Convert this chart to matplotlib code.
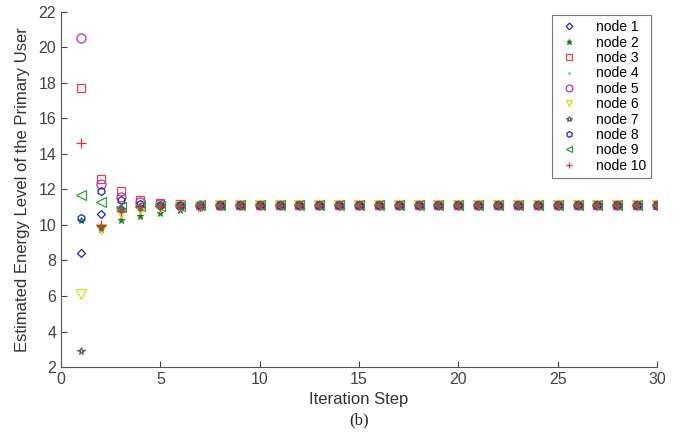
import matplotlib.pyplot as plt

plt.rcParams['font.family'] = ['Liberation Sans', 'DejaVu Sans']

steps = list(range(1, 31))

# first ten iterations read per node, later steps are all settled at ~11.1
settled = [11.1, 11.1, 11.1, 11.1, 11.1, 11.1, 11.1, 11.1, 11.1, 11.1,
           11.1, 11.1, 11.1, 11.1, 11.1, 11.1, 11.1, 11.1, 11.1, 11.1]

node1 = [8.4, 10.6, 10.9, 11.0, 11.05, 11.08, 11.09, 11.1, 11.1, 11.1] + settled
node2 = [10.3, 9.8, 10.3, 10.5, 10.7, 10.85, 10.95, 11.0, 11.05, 11.08] + settled
node3 = [17.7, 12.6, 11.9, 11.4, 11.25, 11.18, 11.14, 11.12, 11.11, 11.1] + settled
node4 = [10.3, 10.0, 10.8, 10.95, 11.0, 11.05, 11.08, 11.1, 11.1, 11.1] + settled
node5 = [20.5, 12.3, 11.6, 11.3, 11.2, 11.15, 11.13, 11.12, 11.11, 11.1] + settled
node6 = [6.1, 9.8, 10.7, 10.9, 11.0, 11.05, 11.08, 11.1, 11.1, 11.1] + settled
node7 = [2.9, 9.9, 10.9, 11.0, 11.05, 11.08, 11.09, 11.1, 11.1, 11.1] + settled
node8 = [10.4, 11.9, 11.4, 11.2, 11.15, 11.12, 11.11, 11.1, 11.1, 11.1] + settled
node9 = [11.7, 11.3, 11.0, 11.05, 11.07, 11.09, 11.1, 11.1, 11.1, 11.1] + settled
node10 = [14.6, 10.0, 10.8, 11.0, 11.05, 11.08, 11.09, 11.1, 11.1, 11.1] + settled

series = [node1, node2, node3, node4, node5, node6, node7, node8, node9, node10]
labels = ['node %d' % (i + 1) for i in range(10)]
markers = ['D', '*', 's', '.', 'o', 'v', '*', 'h', '<', '+']
colors = ['#2020c0', '#208020', '#e04040', '#20b0b0', '#b030c0',
          '#d8d820', '#606060', '#2020c0', '#30a030', '#e03040']
sizes = [4.5, 5, 5.5, 2, 6.5, 6.5, 5.5, 5.5, 6.5, 6.5]

fig = plt.figure(figsize=(6.78, 4.38), dpi=100)
ax = fig.add_axes([0.09, 0.162, 0.879, 0.811])

for y, lab, m, c, s in zip(series, labels, markers, colors, sizes):
    if m in ('+', '.'):
        ax.plot(steps, y, linestyle='none', marker=m, color=c, markersize=s,
                label=lab, markeredgewidth=0.9)
    elif lab == 'node 2':
        ax.plot(steps, y, linestyle='none', marker=m, color=c, markersize=s,
                label=lab, markeredgewidth=0.8)
    else:
        ax.plot(steps, y, linestyle='none', marker=m, markerfacecolor='none',
                markeredgecolor=c, markersize=s, label=lab, markeredgewidth=0.9)

ax.set_xlim(0, 30)
ax.set_ylim(2, 22)
ax.set_xticks(range(0, 31, 5))
ax.set_yticks(range(2, 23, 2))
ax.tick_params(direction='in', labelsize=11.5, colors='#444444', length=4)
ax.spines['top'].set_visible(False)
ax.spines['right'].set_visible(False)
for sp in ('left', 'bottom'):
    ax.spines[sp].set_color('#555555')

ax.set_xlabel('Iteration Step', fontsize=12, color='#333333', labelpad=4)
ax.set_ylabel('Estimated Energy Level of the Primary User', fontsize=12,
              color='#333333', labelpad=6)

leg = ax.legend(loc='upper right', bbox_to_anchor=(0.99, 0.99), fontsize=10,
                frameon=True, fancybox=False, handletextpad=1.1,
                labelspacing=0.1, borderpad=0.35, handlelength=1.7,
                markerscale=0.75, borderaxespad=0.0)
leg.get_frame().set_edgecolor('#555555')
leg.get_frame().set_linewidth(0.8)

fig.text(0.53, 0.03, '(b)', ha='center', fontsize=12,
         family=['Liberation Serif', 'DejaVu Serif'], color='#222222')

fig.savefig('out.png', dpi=100)
